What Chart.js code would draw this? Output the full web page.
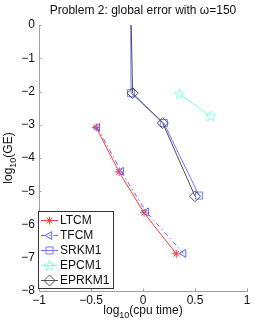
<!DOCTYPE html>
<html lang="en">
<head>
    <meta charset="UTF-8">
    <title>Problem 2: global error</title>
    <style>
        html, body { margin: 0; padding: 0; background: #fff; }
        #wrap { width: 273px; height: 327px; }
    </style>
</head>
<body>
    <div id="wrap"><canvas id="myChart" width="273" height="327"></canvas></div>
    <script src="https://cdn.jsdelivr.net/npm/chart.js"></script>
    <script>
        // values (log10 cpu time, log10 global error)
        const names = ['LTCM', 'TFCM', 'SRKM1', 'EPCM1', 'EPRKM1'];
        const ltcmX = [-0.45, -0.23, 0.01, 0.32];
        const ltcmY = [-3.08, -4.42, -5.65, -6.88];
        const tfcmX = [-0.44, -0.21, 0.03, 0.39];
        const tfcmY = [-3.08, -4.40, -5.62, -6.87];
        const srkmX = [-0.12, -0.115, 0.20, 0.54];
        const srkmY = [1.0, -2.05, -2.95, -5.13];   // first point lies above the axis
        const epcmX = [0.35, 0.65];
        const epcmY = [-2.07, -2.74];
        const eprkmX = [-0.12, -0.10, 0.19, 0.50];
        const eprkmY = [1.0, -2.05, -2.95, -5.15];
        const xTicks = [-1, -0.5, 0, 0.5, 1];
        const yTicks = [0, -1, -2, -3, -4, -5, -6, -7, -8];

        const FONT = '"Liberation Sans", Arial, Helvetica, sans-serif';
        const FS = 12;

        // pentagram marker for EPCM1
        function pentagram(color) {
            const c = document.createElement('canvas');
            c.width = 13; c.height = 13;
            const g = c.getContext('2d');
            g.strokeStyle = color; g.lineWidth = 1;
            g.beginPath();
            for (let i = 0; i < 10; i++) {
                const r = i % 2 === 0 ? 5.5 : 2.3;
                const a = -Math.PI / 2 + i * Math.PI / 5;
                const px = 6.5 + r * Math.cos(a), py = 6.8 + r * Math.sin(a);
                if (i === 0) g.moveTo(px, py); else g.lineTo(px, py);
            }
            g.closePath(); g.stroke();
            return c;
        }

        function pts(xs, ys) {
            return xs.map((x, i) => ({x: x, y: ys[i]}));
        }

        const red = 'rgb(255,60,60)';
        const blue1 = 'rgb(100,100,255)';
        const blue2 = 'rgb(120,120,255)';
        const cyan = 'rgb(130,255,220)';
        const grey = 'rgb(80,80,80)';

        const datasets = [
            {label: names[0], data: pts(ltcmX, ltcmY), borderColor: red, pointStyle: 'star', pointRadius: 4, order: 5},
            {label: names[1], data: pts(tfcmX, tfcmY), borderColor: blue1, borderDash: [5, 3, 1.5, 3], pointStyle: 'triangle', pointRotation: -90, pointRadius: 4.5, order: 4},
            {label: names[2], data: pts(srkmX, srkmY), borderColor: blue2, pointStyle: 'rect', pointRadius: [0, 5, 5, 5], order: 3},
            {label: names[3], data: pts(epcmX, epcmY), borderColor: cyan, pointStyle: pentagram(cyan), pointRadius: 5, order: 2},
            {label: names[4], data: pts(eprkmX, eprkmY), borderColor: grey, pointStyle: 'rectRot', pointRadius: [0, 5.5, 5.5, 5.5], order: 1}
        ];
        datasets.forEach(d => {
            d.showLine = true;
            d.borderWidth = 1;
            d.backgroundColor = 'rgba(0,0,0,0)';
            d.pointBorderColor = d.borderColor;
            d.pointBorderWidth = 1;
            d.pointHoverRadius = d.pointRadius;
        });

        function fmt(v) {
            return String(v).replace('-', '\u2212');
        }

        // text with a lowered small "10" after "log"
        function subText(ctx, x, y, pre, sub, post, size) {
            ctx.font = size + 'px ' + FONT;
            const w1 = ctx.measureText(pre).width;
            ctx.font = (size * 0.75) + 'px ' + FONT;
            const w2 = ctx.measureText(sub).width;
            ctx.font = size + 'px ' + FONT;
            const w3 = ctx.measureText(post).width;
            let cx = x - (w1 + w2 + w3) / 2;
            ctx.textAlign = 'left';
            ctx.textBaseline = 'alphabetic';
            ctx.fillText(pre, cx, y); cx += w1;
            ctx.font = (size * 0.75) + 'px ' + FONT;
            ctx.fillText(sub, cx, y + 3.5); cx += w2;
            ctx.font = size + 'px ' + FONT;
            ctx.fillText(post, cx, y);
        }

        const decor = {
            id: 'decor',
            afterDraw(chart) {
                const ctx = chart.ctx;
                const a = chart.chartArea;
                const xs = chart.scales.x, ys = chart.scales.y;
                ctx.save();

                // inward tick marks
                ctx.strokeStyle = '#a0a0a0';
                ctx.lineWidth = 1;
                ctx.beginPath();
                yTicks.forEach(v => {
                    const py = Math.round(ys.getPixelForValue(v)) + 0.5;
                    ctx.moveTo(a.left, py); ctx.lineTo(a.left + 2.5, py);
                });
                xTicks.forEach(v => {
                    const px = Math.round(xs.getPixelForValue(v)) + 0.5;
                    ctx.moveTo(px, a.bottom); ctx.lineTo(px, a.bottom - 2.5);
                });
                ctx.stroke();

                // title
                ctx.fillStyle = '#111';
                ctx.font = FS + 'px ' + FONT;
                ctx.textAlign = 'center';
                ctx.textBaseline = 'alphabetic';
                const cx = (a.left + a.right) / 2;
                ctx.fillText('Problem 2: global error with \u03c9=150', cx, 14);

                // axis titles
                subText(ctx, cx, 314, 'log', '10', '(cpu time)', FS);
                ctx.save();
                ctx.translate(12, (a.top + a.bottom) / 2);
                ctx.rotate(-Math.PI / 2);
                subText(ctx, 0, 0, 'log', '10', '(GE)', FS);
                ctx.restore();

                // legend box inside the plot, bottom left
                const bx = 38.5, by = 211.5, bw = 75, bh = 77;
                ctx.fillStyle = '#fff';
                ctx.fillRect(bx, by, bw, bh);
                ctx.strokeStyle = '#333';
                ctx.lineWidth = 1;
                ctx.strokeRect(bx, by, bw, bh);
                chart.data.datasets.forEach((d, i) => {
                    const ry = 220 + i * 15;
                    ctx.save();
                    ctx.strokeStyle = d.borderColor;
                    ctx.lineWidth = 1;
                    ctx.setLineDash(d.borderDash || []);
                    ctx.beginPath();
                    ctx.moveTo(41, ry + 0.5); ctx.lineTo(58, ry + 0.5);
                    ctx.stroke();
                    ctx.setLineDash([]);
                    const r = Array.isArray(d.pointRadius) ? d.pointRadius[1] : d.pointRadius;
                    if (Chart.helpers && Chart.helpers.drawPoint) {
                        ctx.fillStyle = 'rgba(0,0,0,0)';
                        Chart.helpers.drawPoint(ctx, {
                            pointStyle: d.pointStyle,
                            rotation: d.pointRotation || 0,
                            radius: r,
                            borderWidth: 1
                        }, 49.5, ry + 0.5);
                    }
                    ctx.restore();
                    ctx.fillStyle = '#111';
                    ctx.font = FS + 'px ' + FONT;
                    ctx.textAlign = 'left';
                    ctx.textBaseline = 'middle';
                    ctx.fillText(d.label, 60, ry + 1);
                });
                ctx.restore();
            }
        };

        const canvas = document.getElementById('myChart');
        const config = {
            type: 'scatter',
            data: {datasets: datasets},
            options: {
                responsive: false,
                animation: false,
                devicePixelRatio: 1,
                layout: {padding: {top: 25, right: 26, left: 0, bottom: 0}},
                plugins: {
                    legend: {display: false},
                    title: {display: false},
                    tooltip: {enabled: false}
                },
                scales: {
                    x: {
                        type: 'linear',
                        position: 'bottom',
                        min: -1, max: 1,
                        afterFit: s => { s.height = 36; },
                        afterBuildTicks: s => { s.ticks = xTicks.map(v => ({value: v})); },
                        grid: {display: false, drawTicks: false, tickLength: 0},
                        border: {display: true, color: '#a0a0a0', width: 1},
                        ticks: {
                            color: '#111', padding: 2, maxRotation: 0,
                            font: {family: FONT, size: FS},
                            callback: v => fmt(v)
                        }
                    },
                    y: {
                        type: 'linear',
                        min: -8, max: 0,
                        afterFit: s => { s.width = 39; },
                        afterBuildTicks: s => { s.ticks = yTicks.map(v => ({value: v})); },
                        grid: {display: false, drawTicks: false, tickLength: 0},
                        border: {display: true, color: '#a0a0a0', width: 1},
                        ticks: {
                            color: '#111', padding: 4,
                            font: {family: FONT, size: FS},
                            callback: v => fmt(v)
                        }
                    }
                }
            },
            plugins: [decor]
        };
        new Chart(canvas, config);
    </script>
</body>
</html>
